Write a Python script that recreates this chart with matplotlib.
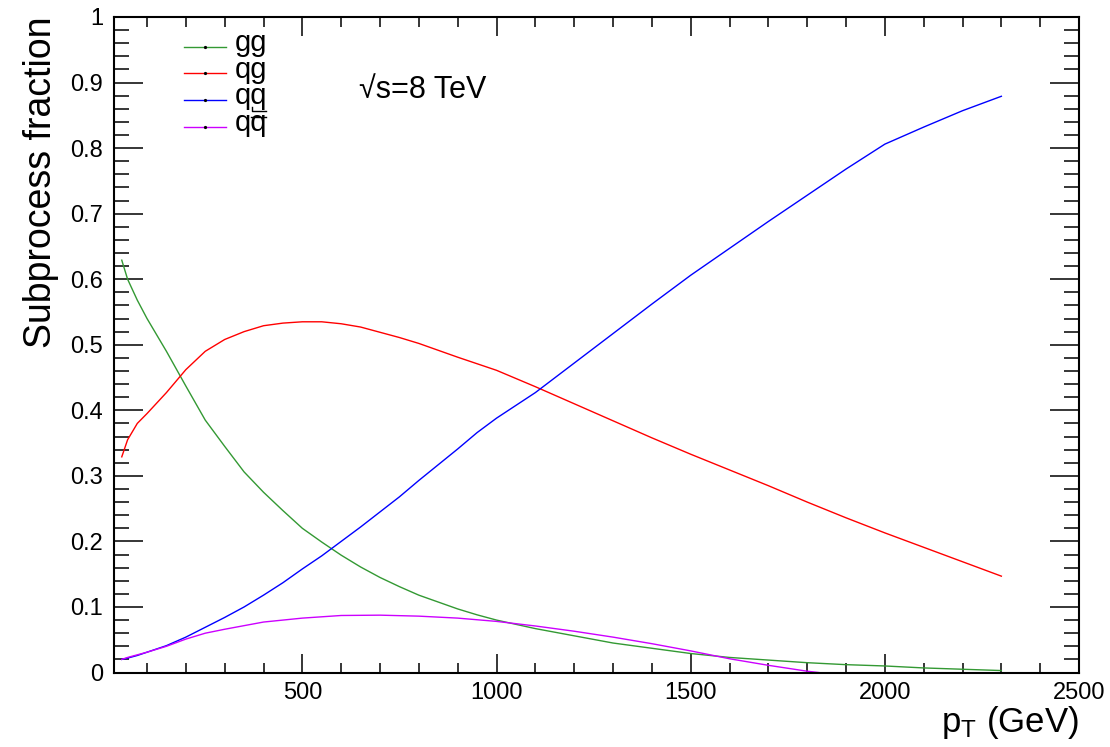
import matplotlib
matplotlib.use("Agg")
import matplotlib.pyplot as plt
from matplotlib.lines import Line2D
from matplotlib.ticker import MultipleLocator, FuncFormatter

plt.rcParams["font.family"] = ["Liberation Sans", "DejaVu Sans"]
plt.rcParams["mathtext.fontset"] = "custom"
plt.rcParams["mathtext.rm"] = "Liberation Sans"
plt.rcParams["mathtext.it"] = "Liberation Sans"

# transverse momentum grid (GeV) and subprocess fractions
pt = [35, 50, 75, 100, 150, 200, 250, 300, 350, 400, 450, 500, 550, 600, 650, 700,
      750, 800, 900, 950, 1000, 1100, 1200, 1300, 1400, 1500, 1600, 1700, 1800,
      1900, 2000, 2100, 2200, 2300]

frac_gg = [0.629, 0.600, 0.568, 0.540, 0.490, 0.437, 0.385, 0.345, 0.306, 0.275,
           0.247, 0.220, 0.199, 0.179, 0.161, 0.145, 0.131, 0.118, 0.097, 0.088,
           0.080, 0.067, 0.056, 0.045, 0.037, 0.029, 0.023, 0.019, 0.015, 0.012,
           0.010, 0.007, 0.005, 0.003]
frac_qg = [0.329, 0.355, 0.380, 0.395, 0.427, 0.462, 0.490, 0.508, 0.520, 0.529,
           0.533, 0.535, 0.535, 0.532, 0.527, 0.519, 0.511, 0.502, 0.481, 0.471,
           0.461, 0.436, 0.410, 0.384, 0.358, 0.333, 0.309, 0.285, 0.260, 0.236,
           0.213, 0.191, 0.169, 0.147]
frac_qq = [0.020, 0.022, 0.026, 0.031, 0.041, 0.054, 0.069, 0.084, 0.100, 0.118,
           0.137, 0.158, 0.178, 0.200, 0.222, 0.245, 0.268, 0.293, 0.341, 0.366,
           0.388, 0.427, 0.472, 0.517, 0.562, 0.606, 0.647, 0.688, 0.728, 0.768,
           0.806, 0.832, 0.857, 0.879]
pt_qqbar = [35, 50, 100, 150, 200, 250, 300, 400, 500, 600, 700, 800, 900, 1000,
            1100, 1200, 1300, 1400, 1500, 1600, 1700, 1800, 1830]
frac_qqbar = [0.020, 0.023, 0.031, 0.040, 0.051, 0.060, 0.066, 0.077, 0.083, 0.087,
              0.0875, 0.086, 0.083, 0.078, 0.071, 0.063, 0.054, 0.044, 0.033, 0.021,
              0.011, 0.002, 0.0]

labels = ["gg", "qg", "qq", "qq"]
colors = ["#339933", "#ff0000", "#0000ff", "#cc00ff"]

fig = plt.figure(figsize=(11.10, 7.47), dpi=100)
ax = fig.add_axes([0.1027, 0.0997, 0.8694, 0.8776])

series = [(pt, frac_gg), (pt, frac_qg), (pt, frac_qq), (pt_qqbar, frac_qqbar)]
for (x, y), c in zip(series, colors):
    ax.plot(x, y, color=c, lw=1.0, solid_joinstyle="round")

ax.set_xlim(15, 2500)
ax.set_ylim(0, 1)

ax.xaxis.set_major_locator(MultipleLocator(500))
ax.xaxis.set_minor_locator(MultipleLocator(100))
ax.yaxis.set_major_locator(MultipleLocator(0.1))
ax.yaxis.set_minor_locator(MultipleLocator(0.02))
ax.yaxis.set_major_formatter(FuncFormatter(lambda v, p: "%g" % round(v, 2)))

ax.tick_params(axis="both", which="both", direction="in", top=True, right=True,
               width=1.1, color="black")
ax.tick_params(axis="y", which="major", length=21, pad=8, labelsize=17)
ax.tick_params(axis="y", which="minor", length=10.5)
ax.tick_params(axis="x", which="major", length=13.5, pad=7, labelsize=17)
ax.tick_params(axis="x", which="minor", length=7)
for s in ax.spines.values():
    s.set_linewidth(1.5)

ax.set_ylabel("Subprocess fraction", fontsize=27, loc="top")
ax.yaxis.set_label_coords(-0.057, 1.0)
ax.set_xlabel(r"$\mathregular{p_{T}}$ (GeV)", fontsize=25, loc="right", labelpad=0)

# legend: short coloured line with a centre dot, label to the right
row_y = [0.9547, 0.9140, 0.8734, 0.8327]
x0, x1, xt = 0.0725, 0.1161, 0.1254
for yy, c, lab in zip(row_y, colors, labels):
    ax.add_line(Line2D([x0, x1], [yy, yy], color=c, lw=1.0,
                       transform=ax.transAxes, clip_on=False))
    ax.add_line(Line2D([(x0 + x1) / 2], [yy], color="black", marker="o",
                       markersize=1.3, transform=ax.transAxes, clip_on=False))
    ax.text(xt, yy - 0.0068, lab, transform=ax.transAxes, fontsize=21,
            ha="left", va="baseline")

# bracket stroke beneath the second q of the third entry
ax.add_line(Line2D([0.1425, 0.1425, 0.1575], [0.8633, 0.8570, 0.8570],
                   color="black", lw=1.0, transform=ax.transAxes, clip_on=False))
# bar over the second q of the fourth entry (antiquark)
ax.add_line(Line2D([0.1420, 0.1575], [0.8479, 0.8479],
                   color="black", lw=1.0, transform=ax.transAxes, clip_on=False))

ax.text(0.254, 0.888, "\u221As=8 TeV", transform=ax.transAxes, fontsize=22,
        ha="left", va="center")

fig.savefig("out.png", dpi=100)
